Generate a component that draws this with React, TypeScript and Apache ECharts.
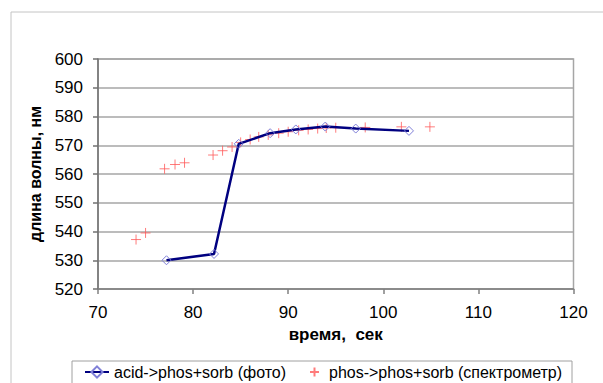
import React, { useEffect, useRef } from "react";
import * as echarts from "echarts";

// Series 1: acid->phos+sorb (фото)
const photoTime = [77.2, 82.2, 84.8, 88.1, 90.8, 93.9, 97.1, 102.7];
const photoWave = [530.0, 532.2, 570.5, 574.2, 575.5, 576.5, 575.8, 575.0];

// Series 2: phos->phos+sorb (спектрометр)
const specTime = [74.0, 75.0, 77.0, 78.1, 79.1, 82.1, 83.1, 84.1, 85.0, 86.0, 86.9, 87.9, 89.0, 90.0, 91.1, 92.1, 93.1, 94.0, 95.0, 98.1, 101.9, 104.9];
const specWave = [537.2, 539.5, 561.8, 563.3, 563.9, 566.6, 568.1, 569.4, 571.0, 572.0, 572.9, 573.6, 574.2, 574.7, 575.2, 575.5, 575.8, 576.0, 576.1, 576.2, 576.4, 576.4];

const seriesNames = ["acid->phos+sorb (фото)", "phos->phos+sorb (спектрометр)"];
const xAxisTitle = "время,  сек";
const yAxisTitle = "длина волны, нм";

export default function App() {
  const ref = useRef<HTMLDivElement>(null);
  useEffect(() => {
    if (!ref.current) return;
    document.body.style.margin = "0";
    const chart = echarts.init(ref.current, undefined, { renderer: "svg" });
    const font = "'Liberation Sans', Arial, sans-serif";
    chart.setOption({
      animation: false,
      backgroundColor: "#ffffff",
      textStyle: { fontFamily: font },
      graphic: [
        {
          type: "rect",
          shape: { x: 11, y: 12, width: 700, height: 500 },
          style: { fill: "none", stroke: "#c4c4c4", lineWidth: 1 },
          silent: true,
        },
        {
          type: "rect",
          shape: { x: 72, y: 361, width: 500, height: 40 },
          style: { fill: "none", stroke: "#a0a0a0", lineWidth: 1 },
          silent: true,
        },
      ],
      grid: {
        left: 98,
        top: 59,
        right: 29.5,
        bottom: 94,
        show: true,
        borderColor: "#a6a6a6",
        borderWidth: 1.5,
        backgroundColor: "transparent",
      },
      legend: [
        {
          data: [seriesNames[0]],
          left: 84,
          top: 364,
          padding: 0,
          itemWidth: 24,
          itemHeight: 14,
          textStyle: { fontSize: 16, color: "#000", fontFamily: font },
        },
        {
          data: [seriesNames[1]],
          left: 309,
          top: 364,
          padding: 0,
          itemWidth: 9,
          itemHeight: 9,
          textStyle: { fontSize: 16, color: "#000", fontFamily: font, padding: [0, 0, 0, 5] },
        },
      ],
      xAxis: {
        type: "value",
        min: 70,
        max: 120,
        interval: 10,
        name: xAxisTitle,
        nameLocation: "middle",
        nameGap: 37,
        nameTextStyle: { fontSize: 17, fontWeight: "bold", color: "#000", fontFamily: font },
        axisLine: { show: true, lineStyle: { color: "#808080", width: 1.5 } },
        axisTick: { show: true, inside: false, length: 5, lineStyle: { color: "#808080", width: 1.5 } },
        axisLabel: { fontSize: 17, color: "#000", margin: 15, fontFamily: font },
        splitLine: { show: false },
      },
      yAxis: {
        type: "value",
        min: 520,
        max: 600,
        interval: 10,
        name: yAxisTitle,
        nameLocation: "middle",
        nameGap: 52,
        nameRotate: 90,
        nameTextStyle: { fontSize: 16, fontWeight: "bold", color: "#000", fontFamily: font },
        axisLine: { show: true, lineStyle: { color: "#707070", width: 1.5 } },
        axisTick: { show: true, inside: false, length: 5, lineStyle: { color: "#707070", width: 1.5 } },
        axisLabel: { fontSize: 17, color: "#000", margin: 15, fontFamily: font },
        splitLine: { show: true, lineStyle: { color: "#a6a6a6", width: 1.5 } },
      },
      series: [
        {
          name: seriesNames[1],
          type: "scatter",
          data: specTime.map((t, i) => [t, specWave[i]]),
          symbol: "path://M5,0L5,10M0,5L10,5",
          symbolSize: 10,
          itemStyle: { color: "rgba(0,0,0,0)", borderColor: "#ff5a5a", borderWidth: 1 },
          z: 2,
        },
        {
          name: seriesNames[0],
          type: "line",
          data: photoTime.map((t, i) => [t, photoWave[i]]),
          symbol: "diamond",
          symbolSize: 9,
          showAllSymbol: true,
          lineStyle: { color: "#000080", width: 2.5 },
          itemStyle: { color: "rgba(0,0,0,0)", borderColor: "#8080d8", borderWidth: 1 },
          z: 3,
        },
      ],
    });
    return () => chart.dispose();
  }, []);
  return (
    <div
      ref={ref}
      style={{ position: "fixed", left: 0, top: 0, width: 603, height: 383 }}
    />
  );
}
